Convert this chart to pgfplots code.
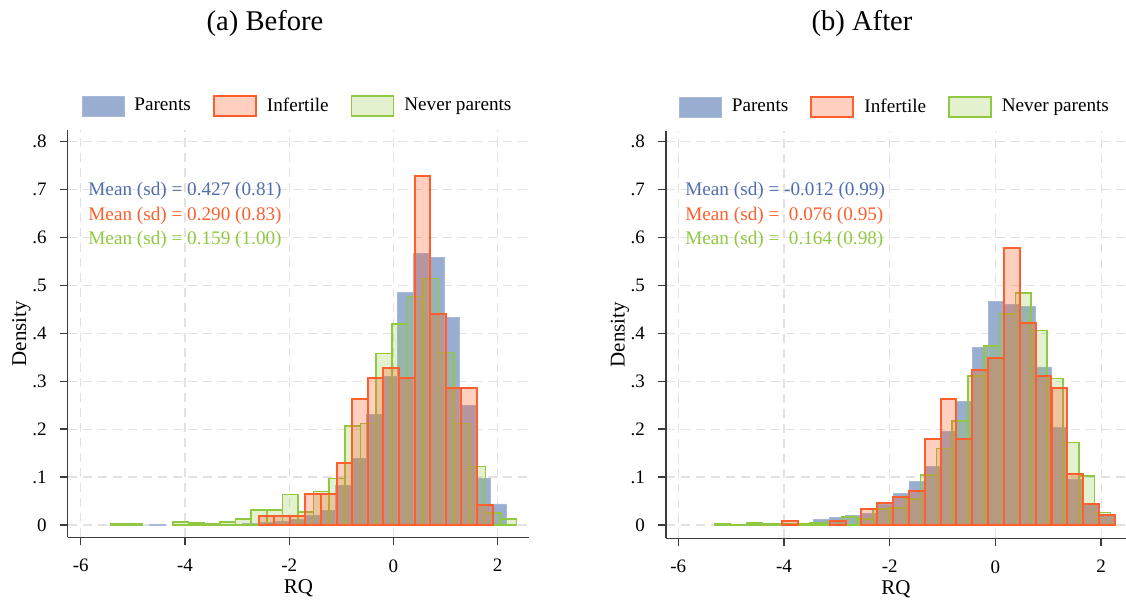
\documentclass[border=0pt]{standalone}
\usepackage{fontspec}
\setmainfont{Liberation Serif}
\usepackage{pgfplots}
\pgfplotsset{compat=1.18}
\definecolor{pblue}{RGB}{152,173,208}
\definecolor{pbluetext}{RGB}{82,110,172}
\definecolor{iorange}{RGB}{255,95,45}
\definecolor{ngreen}{RGB}{145,200,65}
\definecolor{gridgray}{RGB}{226,226,226}
\definecolor{axisgray}{RGB}{60,60,60}
\tikzset{meantext/.style={anchor=west, inner sep=0pt, font=\fontsize{9.6}{11}\selectfont}}
\pgfplotsset{
  pstyle/.style={fill=pblue, draw=pblue!85!white, line width=0.4pt},
  istyle/.style={fill=iorange, fill opacity=0.3, draw=iorange, line width=1pt},
  nstyle/.style={fill=ngreen, fill opacity=0.25, draw=ngreen, line width=0.8pt},
  histax/.style={
    scale only axis,
    anchor=south west,
    axis x line*=bottom, axis y line*=left,
    axis line style={axisgray, line width=0.7pt},
    xtick={-6,-4,-2,0,2}, xticklabels={-6,-4,-2,0,2},
    ytick={0,0.1,0.2,0.3,0.4,0.5,0.6,0.7,0.8},
    yticklabels={0,.1,.2,.3,.4,.5,.6,.7,.8},
    tick align=outside, major tick length=4pt,
    tick style={axisgray, line width=0.7pt},
    xmajorgrids, ymajorgrids,
    major grid style={gridgray, dash pattern=on 4.5pt off 3pt, line width=0.6pt},
    ticklabel style={font=\fontsize{9.5}{11}\selectfont},
    xticklabel style={yshift=-3.5pt},
    yticklabel style={xshift=-3pt},
    xlabel={RQ}, ylabel={Density},
    label style={font=\fontsize{10.5}{12}\selectfont},
    xlabel style={at={(axis description cs:0.5,-0.1245)}, anchor=center},
    ylabel style={at={(axis description cs:-0.1,0.5)}, anchor=center, rotate=0},
    legend columns=3,
    legend image code/.code={\draw[#1] (0pt,-5pt) rectangle (21pt,5pt);},
    legend style={at={(0.5,1.0589)}, anchor=center, draw=none, fill=none,
      font=\fontsize{9.6}{11}\selectfont,
      /tikz/every odd column/.append style={column sep=3pt},
      /tikz/every even column/.append style={column sep=9pt}},
  }
}
\begin{document}
\begin{tikzpicture}
\useasboundingbox (0pt,0pt) rectangle (563pt,-300.5pt);
\node[font=\fontsize{14.3}{16}\selectfont] at (132.5pt,-11.5pt) {(a) Before};
\node[font=\fontsize{14.3}{16}\selectfont] at (431pt,-11.5pt) {(b) After};
% ---------------- Left panel: Before ----------------
\begin{axis}[histax, at={(33.85pt,-268.65pt)}, width=230.8pt, height=203.65pt,
  xmin=-6.25, xmax=2.607, ymin=-0.0257, ymax=0.8246]
\addlegendimage{pstyle}\addlegendentry{Parents}
\addlegendimage{istyle}\addlegendentry{Infertile}
\addlegendimage{nstyle}\addlegendentry{Never parents}
% Parents
\addplot[ybar, bar width=0.2974, bar shift=0pt, pstyle, forget plot] coordinates {
(-4.532,0.002) (-3.640,0.001) (-3.343,0.001) (-3.045,0.002) (-2.748,0.003)
(-2.451,0.005) (-2.153,0.008) (-1.856,0.012) (-1.558,0.020) (-1.261,0.031)
(-0.964,0.083) (-0.666,0.139) (-0.369,0.230) (-0.071,0.310) (0.226,0.485)
(0.523,0.566) (0.821,0.558) (1.118,0.433) (1.415,0.250) (1.713,0.097) (2.010,0.044)};
% Never parents
\addplot[ybar, bar width=0.2997, bar shift=0pt, nstyle, forget plot] coordinates {
(-5.277,0.002) (-4.978,0.002) (-4.079,0.006) (-3.779,0.004) (-3.479,0.002)
(-3.179,0.006) (-2.880,0.0125) (-2.580,0.031) (-2.280,0.031) (-1.981,0.064)
(-1.681,0.027) (-1.381,0.070) (-1.082,0.097) (-0.782,0.207) (-0.482,0.212)
(-0.182,0.358) (0.117,0.419) (0.417,0.477) (0.717,0.515) (1.016,0.360)
(1.316,0.212) (1.616,0.122) (1.915,0.0245) (2.215,0.0125)};
% Infertile
\addplot[ybar, bar width=0.2993, bar shift=0pt, istyle, forget plot] coordinates {
(-2.436,0.019) (-2.137,0.019) (-1.838,0.019) (-1.538,0.064) (-1.239,0.064)
(-0.940,0.130) (-0.641,0.263) (-0.341,0.306) (-0.042,0.328) (0.257,0.306)
(0.557,0.729) (0.856,0.440) (1.155,0.285) (1.454,0.285) (1.754,0.041)};
\node[meantext, text=pbluetext] at (axis cs:-5.86,0.697) {Mean (sd) = 0.427 (0.81)};
\node[meantext, text=iorange] at (axis cs:-5.86,0.645) {Mean (sd) = 0.290 (0.83)};
\node[meantext, text=ngreen] at (axis cs:-5.86,0.595) {Mean (sd) = 0.159 (1.00)};
\end{axis}
% ---------------- Right panel: After ----------------
\begin{axis}[histax, at={(333pt,-269.15pt)}, width=230pt, height=203.65pt,
  xmin=-6.233, xmax=2.471, ymin=-0.0278, ymax=0.8225]
\addlegendimage{pstyle}\addlegendentry{Parents}
\addlegendimage{istyle}\addlegendentry{Infertile}
\addlegendimage{nstyle}\addlegendentry{Never parents}
% Parents
\addplot[ybar, bar width=0.2997, bar shift=0pt, pstyle, forget plot] coordinates {
(-3.884,0.002) (-3.585,0.004) (-3.285,0.012) (-2.985,0.015) (-2.685,0.020)
(-2.386,0.025) (-2.086,0.042) (-1.786,0.065) (-1.487,0.090) (-1.187,0.122)
(-0.887,0.195) (-0.587,0.257) (-0.288,0.371) (0.012,0.466) (0.312,0.461)
(0.611,0.456) (0.911,0.330) (1.211,0.204) (1.510,0.095) (1.810,0.045) (2.110,0.020)};
% Never parents
\addplot[ybar, bar width=0.2994, bar shift=0pt, nstyle, forget plot] coordinates {
(-5.160,0.002) (-4.861,0.001) (-4.562,0.004) (-4.262,0.002) (-3.963,0.002)
(-3.663,0.003) (-3.364,0.004) (-3.064,0.007) (-2.765,0.017) (-2.466,0.012)
(-2.166,0.033) (-1.867,0.035) (-1.567,0.054) (-1.268,0.104) (-0.968,0.160)
(-0.669,0.217) (-0.370,0.311) (-0.070,0.374) (0.229,0.440) (0.528,0.484)
(0.828,0.406) (1.127,0.306) (1.427,0.172) (1.726,0.102) (2.026,0.026)};
% Infertile
\addplot[ybar, bar width=0.2997, bar shift=0pt, istyle, forget plot] coordinates {
(-3.884,0.009) (-2.985,0.009) (-2.386,0.033) (-2.086,0.045) (-1.786,0.058)
(-1.487,0.070) (-1.187,0.179) (-0.887,0.262) (-0.587,0.179) (-0.288,0.324)
(0.012,0.348) (0.312,0.578) (0.611,0.421) (0.911,0.312) (1.211,0.287)
(1.510,0.106) (1.810,0.044) (2.110,0.021)};
\node[meantext, text=pbluetext] at (axis cs:-5.874,0.697) {Mean (sd) = -0.012 (0.99)};
\node[meantext, text=iorange] at (axis cs:-5.874,0.645) {Mean (sd) =\ \ 0.076 (0.95)};
\node[meantext, text=ngreen] at (axis cs:-5.874,0.595) {Mean (sd) =\ \ 0.164 (0.98)};
\end{axis}
\end{tikzpicture}
\end{document}
